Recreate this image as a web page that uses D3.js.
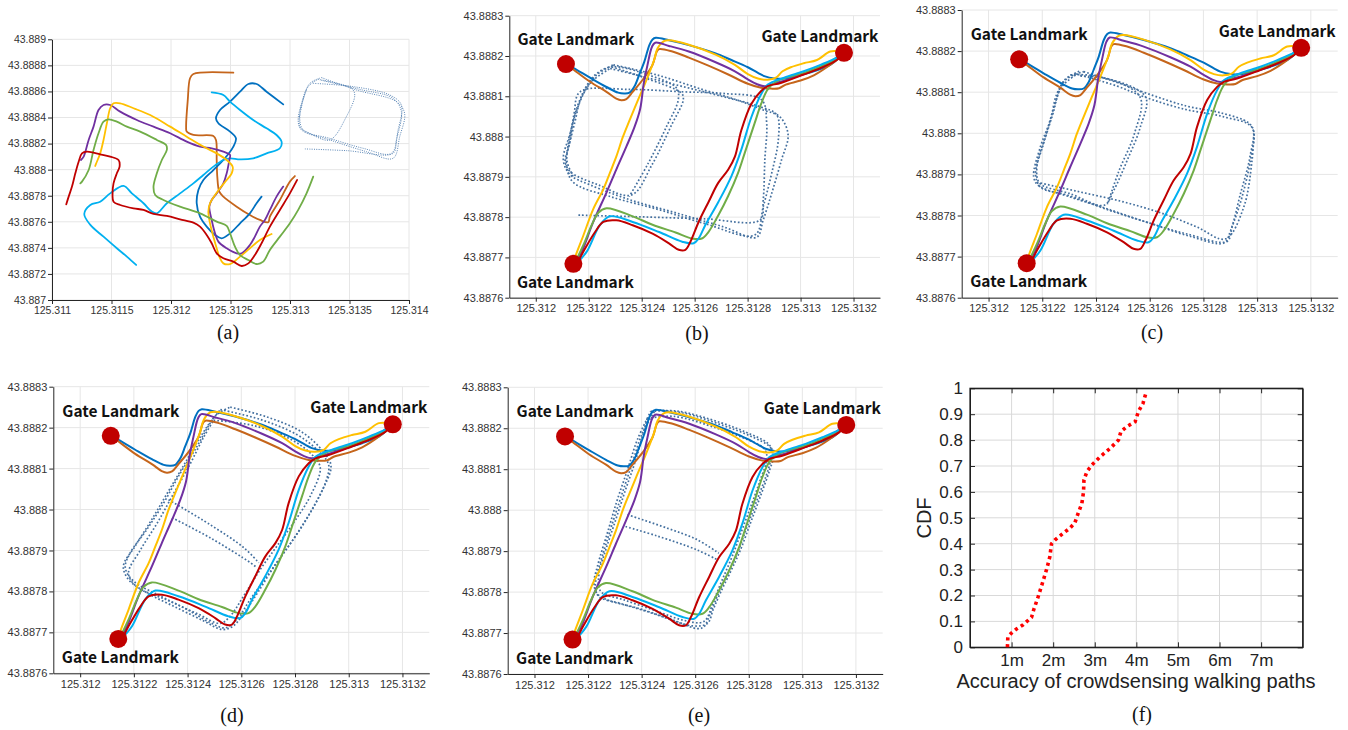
<!DOCTYPE html>
<html>
<head>
<meta charset="utf-8">
<script src="https://cdn.jsdelivr.net/npm/d3@7"></script>
<style>
  body { margin: 0; background: #fff; }
</style>
</head>
<body>
<svg id="chart" width="1348" height="730"></svg>
<script>
// ---------- data ----------
// (a) raw crowdsensed walking paths [lon, lat]
const rawOrange = [[125.312524,43.888744],[125.312188,43.888734],[125.312160,43.888701],[125.312141,43.888535],[125.312127,43.888330],[125.312132,43.888292],[125.312188,43.888266],[125.312356,43.888258],[125.312378,43.888228],[125.312384,43.888074],[125.312389,43.887946],[125.312406,43.887831],[125.312440,43.887793],[125.312552,43.887716],[125.312663,43.887652],[125.312747,43.887614],[125.312817,43.887596],[125.312831,43.887639],[125.312915,43.887767],[125.312999,43.887908],[125.313041,43.887951]];
const rawBlue = [[125.312943,43.888501],[125.312803,43.888598],[125.312719,43.888657],[125.312650,43.888657],[125.312580,43.888598],[125.312496,43.888522],[125.312412,43.888458],[125.312378,43.888394],[125.312398,43.888356],[125.312496,43.888292],[125.312546,43.888240],[125.312524,43.888177],[125.312440,43.888074],[125.312356,43.887997],[125.312272,43.887921],[125.312230,43.887844],[125.312216,43.887742],[125.312244,43.887639],[125.312300,43.887563],[125.312370,43.887499],[125.312426,43.887473],[125.312496,43.887511],[125.312580,43.887588],[125.312663,43.887665],[125.312719,43.887742],[125.312761,43.887793]];
const rawCyan = [[125.312342,43.888593],[125.312440,43.888573],[125.312496,43.888522],[125.312580,43.888458],[125.312691,43.888381],[125.312803,43.888317],[125.312887,43.888266],[125.312929,43.888215],[125.312915,43.888164],[125.312803,43.888125],[125.312691,43.888087],[125.312580,43.888079],[125.312496,43.888087],[125.312440,43.888074],[125.312356,43.888023],[125.312272,43.887959],[125.312188,43.887895],[125.312076,43.887818],[125.311965,43.887742],[125.311881,43.887665],[125.311839,43.887678],[125.311769,43.887742],[125.311671,43.887818],[125.311601,43.887875],[125.311489,43.887818],[125.311405,43.887754],[125.311322,43.887729],[125.311271,43.887660],[125.311322,43.887576],[125.311433,43.887486],[125.311545,43.887397],[125.311629,43.887333],[125.311707,43.887269]];
const rawPurple = [[125.312943,43.887870],[125.312887,43.887793],[125.312831,43.887691],[125.312789,43.887614],[125.312747,43.887563],[125.312705,43.887486],[125.312663,43.887422],[125.312594,43.887358],[125.312552,43.887358],[125.312468,43.887397],[125.312398,43.887448],[125.312370,43.887512],[125.312342,43.887614],[125.312322,43.887716],[125.312342,43.887767],[125.312384,43.887818],[125.312440,43.887895],[125.312468,43.887972],[125.312490,43.888074],[125.312496,43.888113],[125.312440,43.888138],[125.312342,43.888164],[125.312244,43.888177],[125.312132,43.888215],[125.311993,43.888279],[125.311853,43.888330],[125.311713,43.888381],[125.311573,43.888445],[125.311489,43.888496],[125.311433,43.888496],[125.311391,43.888458],[125.311349,43.888330],[125.311308,43.888228],[125.311266,43.888100],[125.311243,43.888074]];
const rawYellow = [[125.312845,43.887506],[125.312747,43.887460],[125.312663,43.887397],[125.312580,43.887333],[125.312496,43.887276],[125.312440,43.887281],[125.312406,43.887333],[125.312384,43.887397],[125.312356,43.887486],[125.312328,43.887588],[125.312314,43.887678],[125.312328,43.887742],[125.312412,43.887857],[125.312468,43.887921],[125.312510,43.887972],[125.312518,43.888023],[125.312468,43.888074],[125.312384,43.888125],[125.312272,43.888177],[125.312132,43.888253],[125.311993,43.888330],[125.311825,43.888419],[125.311685,43.888471],[125.311573,43.888509],[125.311517,43.888509],[125.311489,43.888471],[125.311461,43.888356],[125.311433,43.888228],[125.311405,43.888125],[125.311372,43.888049],[125.311363,43.888028]];
const rawGreen = [[125.313195,43.887946],[125.313139,43.887818],[125.313069,43.887691],[125.312999,43.887588],[125.312915,43.887486],[125.312831,43.887384],[125.312775,43.887294],[125.312719,43.887276],[125.312650,43.887307],[125.312580,43.887345],[125.312538,43.887409],[125.312496,43.887512],[125.312468,43.887568],[125.312384,43.887601],[125.312244,43.887665],[125.312076,43.887716],[125.311937,43.887767],[125.311867,43.887806],[125.311853,43.887870],[125.311881,43.887972],[125.311923,43.888074],[125.311965,43.888151],[125.311959,43.888189],[125.311881,43.888228],[125.311741,43.888292],[125.311629,43.888330],[125.311545,43.888368],[125.311475,43.888386],[125.311433,43.888368],[125.311391,43.888279],[125.311349,43.888151],[125.311308,43.887997],[125.311252,43.887908],[125.311238,43.887895]];
const rawRed = [[125.313060,43.887921],[125.312999,43.887818],[125.312915,43.887691],[125.312831,43.887563],[125.312761,43.887435],[125.312705,43.887345],[125.312650,43.887281],[125.312594,43.887261],[125.312524,43.887294],[125.312440,43.887320],[125.312384,43.887358],[125.312342,43.887435],[125.312300,43.887499],[125.312244,43.887563],[125.312188,43.887593],[125.312076,43.887619],[125.311965,43.887645],[125.311853,43.887660],[125.311769,43.887691],[125.311685,43.887703],[125.311573,43.887729],[125.311517,43.887754],[125.311509,43.887818],[125.311517,43.887895],[125.311545,43.887972],[125.311568,43.888023],[125.311559,43.888074],[125.311489,43.888100],[125.311405,43.888118],[125.311294,43.888138],[125.311252,43.888125],[125.311224,43.888061],[125.311196,43.887972],[125.311168,43.887870],[125.311140,43.887793],[125.311120,43.887734]];
const rawLoop1 = [[125.313265,43.888706],[125.313558,43.888611],[125.313894,43.888522],[125.313963,43.888432],[125.313922,43.888253],[125.313866,43.888087],[125.313642,43.888138],[125.313334,43.888228],[125.313097,43.888304],[125.313069,43.888368],[125.313097,43.888509],[125.313167,43.888662],[125.313265,43.888706]];
const rawLoop2 = [[125.313237,43.888693],[125.313516,43.888624],[125.313544,43.888573],[125.313474,43.888407],[125.313334,43.888228],[125.313167,43.888279],[125.313083,43.888330],[125.313097,43.888483],[125.313153,43.888637],[125.313237,43.888693]];
const rawLoop3 = [[125.313195,43.888662],[125.313530,43.888637],[125.313838,43.888573],[125.313936,43.888496],[125.313908,43.888304],[125.313852,43.888125],[125.313614,43.888164],[125.313334,43.888240],[125.313111,43.888304],[125.313083,43.888432],[125.313139,43.888611]];
const rawLoop4 = [[125.313125,43.888159],[125.313474,43.888146],[125.313866,43.888125],[125.313894,43.888228],[125.313936,43.888445],[125.313866,43.888547],[125.313586,43.888616],[125.313251,43.888688]];

// (b)-(e) gate-to-gate reference routes
const gateLandmarks = [[125.312114,43.888180],[125.313164,43.888208],[125.312142,43.887684]];
const routeBlue = [[125.312114,43.888180],[125.312143,43.888170],[125.312205,43.888146],[125.312267,43.888123],[125.312311,43.888109],[125.312335,43.888107],[125.312354,43.888109],[125.312373,43.888125],[125.312391,43.888154],[125.312410,43.888186],[125.312429,43.888227],[125.312441,43.888241],[125.312453,43.888245],[125.312503,43.888239],[125.312578,43.888227],[125.312677,43.888207],[125.312739,43.888190],[125.312801,43.888172],[125.312839,43.888158],[125.312863,43.888150],[125.312901,43.888144],[125.312938,43.888144],[125.312988,43.888151],[125.313050,43.888162],[125.313112,43.888178],[125.313149,43.888198],[125.313164,43.888208]];
const routeOrange = [[125.312114,43.888180],[125.312143,43.888166],[125.312205,43.888136],[125.312267,43.888111],[125.312304,43.888094],[125.312323,43.888090],[125.312342,43.888093],[125.312366,43.888111],[125.312404,43.888141],[125.312441,43.888178],[125.312457,43.888211],[125.312466,43.888217],[125.312516,43.888211],[125.312578,43.888196],[125.312652,43.888176],[125.312727,43.888154],[125.312801,43.888131],[125.312851,43.888121],[125.312888,43.888119],[125.312919,43.888120],[125.312944,43.888129],[125.313000,43.888139],[125.313050,43.888152],[125.313099,43.888172],[125.313143,43.888194],[125.313164,43.888208]];
const routeYellow = [[125.312142,43.887684],[125.312145,43.887694],[125.312180,43.887755],[125.312217,43.887820],[125.312255,43.887869],[125.312280,43.887910],[125.312304,43.887950],[125.312329,43.887999],[125.312354,43.888040],[125.312385,43.888089],[125.312416,43.888137],[125.312447,43.888190],[125.312460,43.888219],[125.312484,43.888237],[125.312503,43.888239],[125.312578,43.888228],[125.312677,43.888204],[125.312752,43.888178],[125.312801,43.888155],[125.312839,43.888144],[125.312876,43.888141],[125.312907,43.888146],[125.312932,43.888162],[125.312963,43.888172],[125.313012,43.888182],[125.313062,43.888190],[125.313112,43.888211],[125.313149,43.888211],[125.313164,43.888208]];
const routePurple = [[125.312142,43.887684],[125.312155,43.887694],[125.312174,43.887715],[125.312217,43.887788],[125.312267,43.887861],[125.312304,43.887918],[125.312342,43.887975],[125.312373,43.888024],[125.312394,43.888068],[125.312401,43.888097],[125.312407,43.888129],[125.312422,43.888178],[125.312439,43.888223],[125.312451,43.888233],[125.312503,43.888225],[125.312578,43.888211],[125.312677,43.888185],[125.312752,43.888162],[125.312801,43.888142],[125.312832,43.888131],[125.312863,43.888125],[125.312901,43.888132],[125.312950,43.888141],[125.313025,43.888158],[125.313087,43.888174],[125.313137,43.888196],[125.313164,43.888208]];
const routeGreen = [[125.312142,43.887684],[125.312149,43.887690],[125.312180,43.887731],[125.312211,43.887780],[125.312236,43.887811],[125.312267,43.887822],[125.312366,43.887802],[125.312441,43.887781],[125.312528,43.887762],[125.312590,43.887747],[125.312627,43.887747],[125.312652,43.887763],[125.312689,43.887804],[125.312727,43.887853],[125.312764,43.887910],[125.312789,43.887959],[125.312826,43.888032],[125.312851,43.888081],[125.312876,43.888117],[125.312907,43.888136],[125.312950,43.888147],[125.313012,43.888158],[125.313075,43.888174],[125.313137,43.888194],[125.313164,43.888208]];
const routeCyan = [[125.312142,43.887684],[125.312158,43.887689],[125.312193,43.887715],[125.312242,43.887780],[125.312280,43.887802],[125.312366,43.887788],[125.312466,43.887763],[125.312553,43.887739],[125.312596,43.887735],[125.312615,43.887747],[125.312640,43.887780],[125.312689,43.887837],[125.312739,43.887902],[125.312776,43.887967],[125.312814,43.888048],[125.312851,43.888105],[125.312876,43.888129],[125.312938,43.888146],[125.313012,43.888162],[125.313075,43.888178],[125.313137,43.888196],[125.313164,43.888208]];
const routeRed = [[125.312142,43.887684],[125.312155,43.887686],[125.312180,43.887715],[125.312224,43.887763],[125.312255,43.887788],[125.312304,43.887792],[125.312366,43.887780],[125.312441,43.887759],[125.312503,43.887735],[125.312540,43.887719],[125.312565,43.887719],[125.312584,43.887739],[125.312615,43.887788],[125.312652,43.887837],[125.312689,43.887885],[125.312727,43.887918],[125.312752,43.887950],[125.312776,43.888015],[125.312814,43.888081],[125.312851,43.888113],[125.312876,43.888125],[125.312925,43.888133],[125.313012,43.888154],[125.313075,43.888170],[125.313137,43.888190],[125.313164,43.888208]];

// (b) crowdsensed traces
const traceB1 = [[125.312287,43.888173],[125.312419,43.888144],[125.312551,43.888107],[125.312557,43.888091],[125.312513,43.888029],[125.312438,43.887929],[125.312362,43.887855],[125.312236,43.887880],[125.312130,43.887913],[125.312111,43.887938],[125.312123,43.887971],[125.312148,43.888037],[125.312174,43.888103],[125.312224,43.888153],[125.312287,43.888173],[125.312425,43.888153],[125.312532,43.888120],[125.312538,43.888091],[125.312494,43.888025],[125.312425,43.887934],[125.312353,43.887851]];
const traceB2 = [[125.312293,43.888178],[125.312457,43.888153],[125.312633,43.888116],[125.312759,43.888091],[125.312859,43.888066],[125.312922,43.888049],[125.312953,43.888004],[125.312928,43.887942],[125.312891,43.887859],[125.312859,43.887793],[125.312834,43.887750],[125.312708,43.887776],[125.312532,43.887810],[125.312356,43.887843],[125.312205,43.887880],[125.312130,43.887905],[125.312104,43.887942],[125.312130,43.888008],[125.312167,43.888091],[125.312230,43.888153],[125.312293,43.888178]];
const traceB3 = [[125.312161,43.887805],[125.312381,43.887801],[125.312633,43.887796],[125.312847,43.887793],[125.312859,43.887843],[125.312865,43.887942],[125.312872,43.888033],[125.312853,43.888091],[125.312708,43.888107],[125.312557,43.888111],[125.312356,43.888117],[125.312167,43.888111],[125.312145,43.888058],[125.312130,43.887992],[125.312117,43.887942],[125.312142,43.887900]];
const traceB4 = [[125.312281,43.888169],[125.312507,43.888132],[125.312708,43.888099],[125.312847,43.888074],[125.312910,43.888054],[125.312916,43.887992],[125.312891,43.887909],[125.312859,43.887826],[125.312828,43.887756],[125.312633,43.887785],[125.312457,43.887820],[125.312281,43.887851],[125.312142,43.887886],[125.312117,43.887925],[125.312123,43.887983],[125.312155,43.888066],[125.312205,43.888132],[125.312281,43.888169]];

// (c) crowdsensed traces
const traceC1 = [[125.312354,43.888150],[125.312491,43.888121],[125.312590,43.888097],[125.312739,43.888066],[125.312863,43.888050],[125.312969,43.888025],[125.312988,43.888003],[125.312975,43.887934],[125.312944,43.887845],[125.312907,43.887772],[125.312888,43.887737],[125.312739,43.887755],[125.312578,43.887786],[125.312429,43.887819],[125.312304,43.887845],[125.312186,43.887873],[125.312168,43.887894],[125.312193,43.887967],[125.312230,43.888032],[125.312255,43.888097],[125.312292,43.888133],[125.312354,43.888150]];
const traceC2 = [[125.312329,43.888144],[125.312478,43.888115],[125.312578,43.888089],[125.312727,43.888059],[125.312876,43.888040],[125.312981,43.888014],[125.312973,43.887942],[125.312938,43.887853],[125.312901,43.887763],[125.312876,43.887733],[125.312752,43.887749],[125.312602,43.887781],[125.312453,43.887812],[125.312292,43.887850],[125.312195,43.887868],[125.312175,43.887900],[125.312205,43.887975],[125.312240,43.888048],[125.312270,43.888111],[125.312329,43.888144]];
const traceC3 = [[125.312304,43.888142],[125.312404,43.888139],[125.312584,43.888089],[125.312565,43.888015],[125.312516,43.887934],[125.312466,43.887861],[125.312431,43.887825],[125.312304,43.887853],[125.312190,43.887879],[125.312180,43.887918],[125.312215,43.887999],[125.312252,43.888081],[125.312282,43.888129],[125.312342,43.888152]];
const traceC4 = [[125.312342,43.888139],[125.312453,43.888131],[125.312565,43.888087],[125.312543,43.887999],[125.312484,43.887906],[125.312443,43.887827]];
const traceC5 = [[125.312180,43.887881],[125.312329,43.887859],[125.312503,43.887833],[125.312652,43.887804],[125.312776,43.887772],[125.312882,43.887743],[125.312950,43.887820],[125.312981,43.887934],[125.312988,43.887999]];

// (d) crowdsensed traces
const traceD1 = [[125.312522,43.888244],[125.312671,43.888220],[125.312807,43.888183],[125.312882,43.888146],[125.312925,43.888110],[125.312913,43.888065],[125.312870,43.888008],[125.312814,43.887947],[125.312758,43.887894],[125.312696,43.887837],[125.312634,43.887781],[125.312584,43.887732],[125.312540,43.887711],[125.312484,43.887724],[125.312398,43.887756],[125.312298,43.887789],[125.312199,43.887825],[125.312168,43.887858],[125.312186,43.887894],[125.312248,43.887951],[125.312311,43.888016],[125.312373,43.888089],[125.312435,43.888154],[125.312484,43.888211],[125.312522,43.888244]];
const traceD2 = [[125.312559,43.888250],[125.312696,43.888226],[125.312826,43.888189],[125.312907,43.888140],[125.312934,43.888106],[125.312897,43.888041],[125.312842,43.887976],[125.312785,43.887919],[125.312723,43.887862],[125.312661,43.887797],[125.312611,43.887748],[125.312569,43.887715],[125.312528,43.887707],[125.312460,43.887728],[125.312360,43.887760],[125.312248,43.887797],[125.312180,43.887829],[125.312161,43.887862],[125.312205,43.887911],[125.312267,43.887976],[125.312329,43.888045],[125.312391,43.888114],[125.312453,43.888183],[125.312509,43.888232],[125.312559,43.888250]];
const traceD3 = [[125.312497,43.888218],[125.312646,43.888205],[125.312783,43.888172],[125.312863,43.888134],[125.312894,43.888102],[125.312857,43.888033],[125.312795,43.887968],[125.312733,43.887911],[125.312671,43.887854],[125.312609,43.887789],[125.312559,43.887740],[125.312522,43.887722],[125.312435,43.887746],[125.312323,43.887779],[125.312211,43.887811],[125.312180,43.887844],[125.312224,43.887901],[125.312286,43.887966],[125.312348,43.888039],[125.312410,43.888112],[125.312460,43.888177],[125.312497,43.888218]];
const traceD4 = [[125.312329,43.888024],[125.312484,43.887963],[125.312609,43.887907],[125.312665,43.887870]];
const traceD5 = [[125.312342,43.887980],[125.312484,43.887931],[125.312634,43.887870],[125.312658,43.887858]];

// (e) crowdsensed traces
const traceE1 = [[125.312434,43.888241],[125.312533,43.888242],[125.312694,43.888214],[125.312794,43.888189],[125.312868,43.888165],[125.312887,43.888147],[125.312881,43.888119],[125.312866,43.888086],[125.312831,43.888025],[125.312794,43.887960],[125.312757,43.887895],[125.312719,43.887842],[125.312682,43.887789],[125.312657,43.887749],[125.312632,43.887715],[125.312607,43.887711],[125.312545,43.887724],[125.312446,43.887747],[125.312322,43.887772],[125.312241,43.887789],[125.312222,43.887820],[125.312235,43.887863],[125.312272,43.887944],[125.312309,43.888025],[125.312347,43.888098],[125.312384,43.888172],[125.312434,43.888241]];
const traceE2 = [[125.312452,43.888245],[125.312558,43.888237],[125.312707,43.888206],[125.312806,43.888181],[125.312878,43.888155],[125.312893,43.888135],[125.312878,43.888098],[125.312843,43.888033],[125.312806,43.887968],[125.312769,43.887903],[125.312732,43.887850],[125.312694,43.887798],[125.312667,43.887757],[125.312645,43.887723],[125.312583,43.887718],[125.312496,43.887737],[125.312384,43.887761],[125.312272,43.887781],[125.312232,43.887798],[125.312229,43.887830],[125.312253,43.887887],[125.312291,43.887968],[125.312328,43.888042],[125.312365,43.888115],[125.312403,43.888188],[125.312452,43.888245]];
const traceE3 = [[125.312421,43.888224],[125.312521,43.888229],[125.312682,43.888200],[125.312781,43.888176],[125.312856,43.888151],[125.312868,43.888127],[125.312843,43.888074],[125.312812,43.888017],[125.312775,43.887952],[125.312738,43.887887],[125.312701,43.887830],[125.312670,43.887781],[125.312632,43.887728],[125.312558,43.887731],[125.312458,43.887753],[125.312334,43.887781],[125.312247,43.887802],[125.312241,43.887846],[125.312266,43.887903],[125.312303,43.887976],[125.312340,43.888050],[125.312378,43.888123],[125.312421,43.888224]];
const traceE4 = [[125.312347,43.887989],[125.312496,43.887956],[125.312607,43.887928],[125.312688,43.887895]];
const traceE5 = [[125.312340,43.887960],[125.312458,43.887937],[125.312607,43.887903],[125.312682,43.887879]];

// (f) CDF of path accuracy
const cdfError = [0.9,0.91,0.99,1.11,1.27,1.48,1.53,1.64,1.74,1.85,1.92,1.96,2.04,2.24,2.40,2.52,2.60,2.69,2.73,2.74,2.81,2.93,3.13,3.37,3.57,3.63,3.77,3.97,4.05,4.16,4.24];
const cdfProb = [0,0.04,0.054,0.07,0.086,0.116,0.144,0.196,0.247,0.305,0.35,0.40,0.414,0.44,0.46,0.48,0.517,0.556,0.60,0.646,0.678,0.704,0.736,0.768,0.80,0.833,0.852,0.871,0.91,0.942,0.987];

// tick labels
const ticksAX = [125.311,125.3115,125.312,125.3125,125.313,125.3135,125.314];
const ticksAY = [43.887,43.8872,43.8874,43.8876,43.8878,43.888,43.8882,43.8884,43.8886,43.8888,43.889];
const ticksX = [125.312,125.3122,125.3124,125.3126,125.3128,125.313,125.3132];
const ticksY = [43.8876,43.8877,43.8878,43.8879,43.888,43.8881,43.8882,43.8883];
const cdfTicksX = [1,2,3,4,5,6,7];
const cdfTicksY = [0,0.1,0.2,0.3,0.4,0.5,0.6,0.7,0.8,0.9,1];
const gateName = "Gate Landmark";

// ---------- drawing ----------
const svg = d3.select("#chart");
const tickFont = "'Liberation Sans', Arial, sans-serif";
const rawColors = ["#c5651b", "#0070c0", "#00b0f0", "#7030a0", "#ffc000", "#70ad47", "#c00000"];
const routeColors = ["#0070c0", "#c5651b", "#ffc000", "#7030a0", "#70ad47", "#00b0f0", "#c00000"];
const labelOffsets = [[10, -19], [-24, -11], [2, 24]];
const fmtCoord = d => String(+d.toFixed(4));

function styleAxis(sel, size, color) {
  sel.select(".domain").attr("stroke", "#262626");
  sel.selectAll(".tick line").attr("stroke", "#262626");
  sel.selectAll(".tick text")
    .attr("fill", color)
    .style("font-family", tickFont)
    .style("font-size", size + "px");
}

function caption(x, y, text) {
  svg.append("text")
    .attr("x", x).attr("y", y)
    .attr("text-anchor", "middle")
    .style("font-family", "'Liberation Serif', 'Times New Roman', serif")
    .style("font-size", "20px")
    .attr("fill", "#111")
    .text(text);
}

function mapPanel(p) {
  const g = svg.append("g");
  const [x0, y0, x1, y1] = p.box;
  const x = d3.scaleLinear().domain(p.xDom).range([x0, x1]);
  const y = d3.scaleLinear().domain(p.yDom).range([y1, y0]);

  g.append("g").selectAll("line").data(p.xTicks).join("line")
    .attr("x1", d => x(d)).attr("x2", d => x(d))
    .attr("y1", y0).attr("y2", y1)
    .attr("stroke", "#e6e6e6");
  g.append("g").selectAll("line").data(p.yTicks).join("line")
    .attr("x1", x0).attr("x2", x1)
    .attr("y1", d => y(d)).attr("y2", d => y(d))
    .attr("stroke", "#e6e6e6");

  g.append("g")
    .attr("transform", `translate(0,${y1})`)
    .call(d3.axisBottom(x).tickValues(p.xTicks).tickFormat(fmtCoord).tickSize(4).tickSizeOuter(0).tickPadding(3))
    .call(s => styleAxis(s, p.font, "#333"));
  g.append("g")
    .attr("transform", `translate(${x0},0)`)
    .call(d3.axisLeft(y).tickValues(p.yTicks).tickFormat(fmtCoord).tickSize(4).tickSizeOuter(0).tickPadding(2))
    .call(s => styleAxis(s, p.font, "#333"));

  const line = d3.line().x(d => x(d[0])).y(d => y(d[1])).curve(d3.curveCatmullRom.alpha(0.5));

  g.append("g").selectAll("path").data(p.dotted).join("path")
    .attr("d", line)
    .attr("fill", "none")
    .attr("stroke", p.dotColor)
    .attr("stroke-width", p.dotWidth)
    .attr("stroke-dasharray", p.dotDash);

  g.append("g").selectAll("path").data(p.solid).join("path")
    .attr("d", line)
    .attr("fill", "none")
    .attr("stroke", (d, i) => p.colors[i])
    .attr("stroke-width", p.lineWidth)
    .attr("stroke-linejoin", "round")
    .attr("stroke-linecap", "round");

  if (p.gates) {
    g.append("g").selectAll("circle").data(gateLandmarks).join("circle")
      .attr("cx", d => x(d[0])).attr("cy", d => y(d[1]))
      .attr("r", 9)
      .attr("fill", "#c00000");
    g.append("g").selectAll("text").data(gateLandmarks).join("text")
      .attr("x", (d, i) => x(d[0]) + labelOffsets[i][0])
      .attr("y", (d, i) => y(d[1]) + labelOffsets[i][1])
      .attr("text-anchor", "middle")
      .style("font-family", "'Noto Sans CJK SC', 'Noto Sans', sans-serif")
      .style("font-weight", "700")
      .style("font-size", "15.5px")
      .attr("fill", "#111")
      .text(gateName);
  }

  caption(p.caption[0], p.caption[1], p.label);
}

const routes = [routeBlue, routeOrange, routeYellow, routePurple, routeGreen, routeCyan, routeRed];
const mapDefaults = {
  xDom: [125.3119, 125.3133], yDom: [43.8876, 43.8883],
  xTicks: ticksX, yTicks: ticksY, font: 11,
  solid: routes, colors: routeColors, lineWidth: 2, gates: true,
  dotColor: "#44709f", dotWidth: 1.7, dotDash: "1.7,2.1"
};

mapPanel({
  label: "(a)", box: [52, 39.3, 409, 300], caption: [228, 339],
  xDom: [125.311, 125.314], yDom: [43.887, 43.889],
  xTicks: ticksAX, yTicks: ticksAY, font: 10.5,
  solid: [rawOrange, rawBlue, rawCyan, rawPurple, rawYellow, rawGreen, rawRed], colors: rawColors,
  lineWidth: 1.8, gates: false,
  dotted: [rawLoop1, rawLoop2, rawLoop3, rawLoop4],
  dotColor: "#5a86b6", dotWidth: 1, dotDash: "1,1.3"
});
mapPanel({ ...mapDefaults, label: "(b)", box: [509.3, 15.7, 880, 297.7], caption: [697, 340],
  dotted: [traceB1, traceB2, traceB3, traceB4] });
mapPanel({ ...mapDefaults, label: "(c)", box: [961.7, 10, 1337.7, 297.7], caption: [1152, 339],
  dotted: [traceC1, traceC2, traceC3, traceC4, traceC5] });
mapPanel({ ...mapDefaults, label: "(d)", box: [53.3, 386.7, 429.3, 673.3], caption: [232, 722],
  dotted: [traceD1, traceD2, traceD3, traceD4, traceD5] });
mapPanel({ ...mapDefaults, label: "(e)", box: [507.7, 387.3, 882.7, 674], caption: [699, 722],
  dotted: [traceE1, traceE2, traceE3, traceE4, traceE5] });

// (f) CDF panel
(function cdfPanel() {
  const x0 = 970, y0 = 388.3, x1 = 1302.7, y1 = 647.3;
  const g = svg.append("g");
  const x = d3.scaleLinear().domain([0, 8]).range([x0, x1]);
  const y = d3.scaleLinear().domain([0, 1]).range([y1, y0]);

  g.append("g").selectAll("line").data(cdfTicksX).join("line")
    .attr("x1", d => x(d)).attr("x2", d => x(d)).attr("y1", y0).attr("y2", y1)
    .attr("stroke", "#d9d9d9");
  g.append("g").selectAll("line").data(cdfTicksY.slice(1, -1)).join("line")
    .attr("x1", x0).attr("x2", x1).attr("y1", d => y(d)).attr("y2", d => y(d))
    .attr("stroke", "#d9d9d9");

  const axFont = 17;
  g.append("g").attr("transform", `translate(0,${y1})`)
    .call(d3.axisBottom(x).tickValues(cdfTicksX).tickFormat(d => d + "m").tickSize(-5).tickSizeOuter(0).tickPadding(7))
    .call(s => styleAxis(s, axFont, "#222"));
  g.append("g").attr("transform", `translate(0,${y0})`)
    .call(d3.axisTop(x).tickValues(cdfTicksX).tickFormat("").tickSize(-5).tickSizeOuter(0))
    .call(s => styleAxis(s, axFont, "#222"));
  g.append("g").attr("transform", `translate(${x0},0)`)
    .call(d3.axisLeft(y).tickValues(cdfTicksY).tickFormat(d => String(d)).tickSize(-5).tickSizeOuter(0).tickPadding(7))
    .call(s => styleAxis(s, axFont, "#222"));
  g.append("g").attr("transform", `translate(${x1},0)`)
    .call(d3.axisRight(y).tickValues(cdfTicksY).tickFormat("").tickSize(-5).tickSizeOuter(0))
    .call(s => styleAxis(s, axFont, "#222"));
  g.append("rect")
    .attr("x", x0).attr("y", y0).attr("width", x1 - x0).attr("height", y1 - y0)
    .attr("fill", "none").attr("stroke", "#1a1a1a").attr("stroke-width", 1.2);

  const cdfLine = d3.line().x((d, i) => x(cdfError[i])).y((d, i) => y(cdfProb[i]));
  g.append("path")
    .attr("d", cdfLine(cdfError))
    .attr("fill", "none")
    .attr("stroke", "#ff0000")
    .attr("stroke-width", 3.6)
    .attr("stroke-dasharray", "3.2,3.6");

  g.append("text")
    .attr("x", 1136).attr("y", 688)
    .attr("text-anchor", "middle")
    .style("font-family", tickFont).style("font-size", "20px")
    .attr("fill", "#222")
    .text("Accuracy of crowdsensing walking paths");
  g.append("text")
    .attr("transform", "translate(931,518) rotate(-90)")
    .attr("text-anchor", "middle")
    .style("font-family", tickFont).style("font-size", "20px")
    .attr("fill", "#222")
    .text("CDF");

  caption(1142, 721, "(f)");
})();
</script>
</body>
</html>
